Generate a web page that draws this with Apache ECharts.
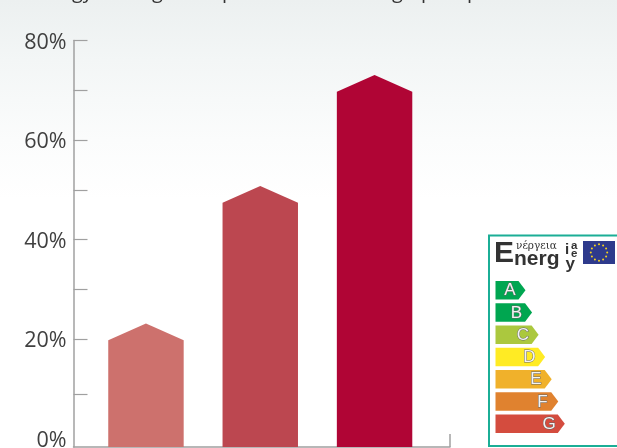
<!DOCTYPE html>
<html><head><meta charset="utf-8">
<style>html,body{margin:0;padding:0;background:#fff;overflow:hidden}#c{width:617px;height:448px}</style>
<script src="https://cdn.jsdelivr.net/npm/echarts@6/dist/echarts.min.js"></script>
</head><body><div id="c"></div>
<script>
const categories = ['Low', 'Medium', 'High'];
const barValues = [19.8, 47.4, 69.7];
const barColors = ['#CD716D', '#BC4750', '#B00535'];
const yLabelValues = [0, 20, 40, 60, 80];
const yTickValues = [9, 20, 30, 40, 50, 60, 70, 80];
const ratingClasses = ['A', 'B', 'C', 'D', 'E', 'F', 'G'];
const ratingColors = ['#00A651', '#00A650', '#ABC83E', '#FFEB24', '#F0B12B', '#E0822F', '#D44C3E'];
const clippedTitleBits = [['gy', 72], ['g', 152], ['p', 222], ['g', 392], ['p', 421], ['p', 467]];

const chart = echarts.init(document.getElementById('c'), null, {renderer: 'canvas'});
const FONT = '"Open Sans", sans-serif';
const g = [];

// top fade of the page background
g.push({type: 'rect', z: -10, shape: {x: 0, y: 0, width: 617, height: 200},
  style: {fill: new echarts.graphic.LinearGradient(0, 0, 0, 1, [
    {offset: 0, color: '#ECF0F0'}, {offset: 0.3, color: '#F3F6F6'}, {offset: 0.7, color: '#FBFCFC'}, {offset: 1, color: '#FFFFFF'}])}});

// the title runs off the top edge: only its descenders are visible
clippedTitleBits.forEach(([t, x]) => g.push({type: 'text', x, y: -17.5, z: 5,
  style: {text: t, font: '20px ' + FONT, fill: '#333', textVerticalAlign: 'top'}}));

// energy label panel
g.push({type: 'rect', z: 5, shape: {x: 489, y: 235.5, width: 140, height: 210.5},
  style: {fill: '#fff', stroke: '#1BAE96', lineWidth: 2}});
const t = (text, x, y, size, opts) => ({type: 'text', x, y, z: 7,
  style: Object.assign({text, fill: '#333333', textVerticalAlign: 'middle', font: 'bold ' + size + 'px "Liberation Sans", sans-serif'}, opts || {})});
g.push(t('E', 494, 254, 30));
g.push(t('νέργεια', 516, 246.5, 10.5, {font: '10.5px "DejaVu Serif", serif'}));
g.push(t('nerg', 514, 259.5, 21));
g.push(t('i', 565, 249.5, 15));
g.push(t('a', 571, 245.5, 11.5));
g.push(t('e', 571, 254, 11.5));
g.push(t('y', 565.5, 264, 17));
g.push({type: 'rect', z: 7, shape: {x: 583, y: 241, width: 32, height: 23}, style: {fill: '#2E3A8C'}});
for (let i = 0; i < 12; i++) {
  const a = i / 12 * 2 * Math.PI;
  g.push({type: 'circle', z: 8, shape: {cx: 599 + 8.2 * Math.cos(a), cy: 252.5 + 8.2 * Math.sin(a), r: 1}, style: {fill: '#F5D21E'}});
}
ratingClasses.forEach((c, i) => {
  const x0 = 495.5, y0 = 281 + i * 22.25, h = 18.5, w = 23 + i * 6.55, tip = 7;
  g.push({type: 'polygon', z: 7, shape: {points: [[x0, y0], [x0 + w, y0], [x0 + w + tip, y0 + h / 2], [x0 + w, y0 + h], [x0, y0 + h]]},
    style: {fill: ratingColors[i]}});
  g.push({type: 'text', z: 8, x: x0 + 14.5 + i * 6.5, y: y0 + h / 2 + 0.5,
    style: {text: c, fill: '#F3F3F3', stroke: '#666', lineWidth: 0.9, align: 'center', textAlign: 'center', textVerticalAlign: 'middle',
      font: '17px "Liberation Sans", sans-serif'}});
});

chart.setOption({
  animation: false,
  backgroundColor: 'transparent',
  graphic: {elements: g},
  grid: {left: 73.5, top: 40.5, width: 376.5, height: 406.5, outerBoundsMode: 'none'},
  xAxis: {
    type: 'value', min: -0.634, max: 2.66,
    splitLine: {show: false},
    axisLabel: {show: false},
    axisLine: {show: true, onZero: false, lineStyle: {color: '#A0A0A0', width: 1.5}},
    axisTick: {show: true, inside: true, length: 13, customValues: [2.66], lineStyle: {color: '#A0A0A0', width: 1.5}}
  },
  yAxis: {
    type: 'value', min: -1.65, max: 80,
    splitLine: {show: false},
    axisLine: {show: true, onZero: false, lineStyle: {color: '#A0A0A0', width: 1.5}},
    axisTick: {show: true, inside: true, length: 14, customValues: yTickValues, lineStyle: {color: '#A0A0A0', width: 1.2}},
    axisLabel: {customValues: yLabelValues, formatter: v => '{p|' + v + '%}', margin: 7,
      rich: {p: {color: '#404040', fontSize: 21.5, padding: [4, 0, 0, 0], fontFamily: '"Open Sans", sans-serif'}}}
  },
  series: [{
    type: 'custom',
    name: 'Share',
    clip: false,
    data: categories.map((c, i) => [i, barValues[i], c]),
    encode: {x: 0, y: 1},
    renderItem(params, api) {
      const i = api.value(0);
      const top = api.coord([i, api.value(1)]);
      const base = api.coord([i, -1.65]);
      const half = api.size([1, 0])[0] * 0.33;
      const peak = 16.8;
      return {type: 'polygon', shape: {points: [
        [top[0] - half, base[1]], [top[0] - half, top[1]], [top[0], top[1] - peak],
        [top[0] + half, top[1]], [top[0] + half, base[1]]]},
        style: {fill: barColors[i]}};
    }
  }]
});
</script></body></html>
